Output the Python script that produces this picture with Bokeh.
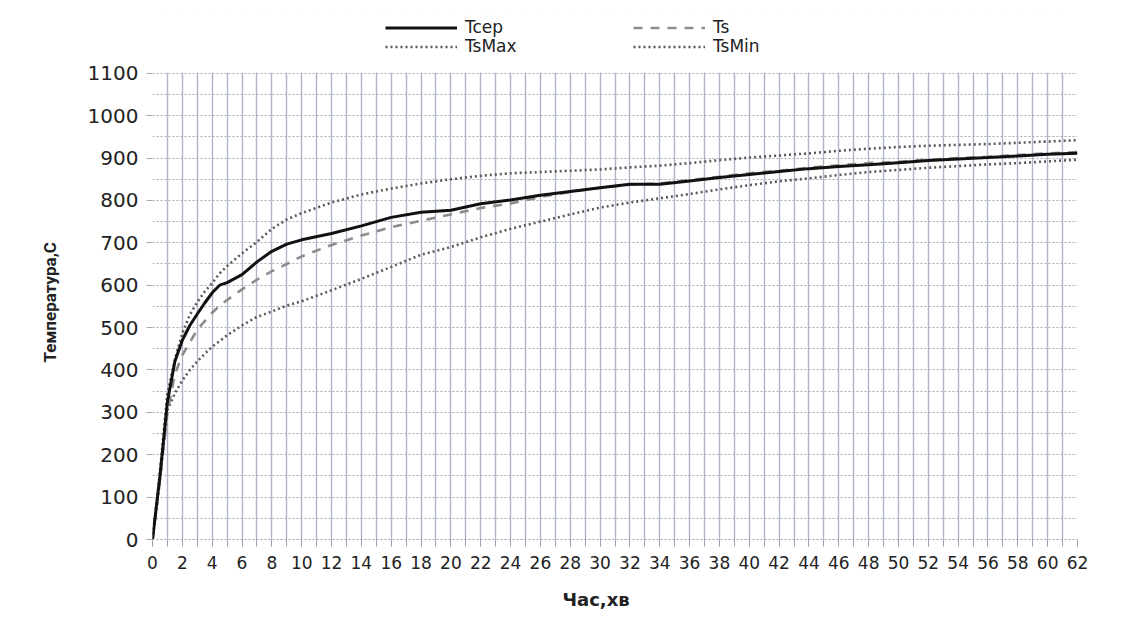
from bokeh.plotting import figure
from bokeh.models import Range1d, FixedTicker, Legend, LegendItem, BoxAnnotation, Title
from bokeh.embed import file_html
from bokeh.resources import INLINE

# time, minutes
time = [0, 0.5, 1, 1.5, 2, 2.5, 3, 3.5, 4, 4.5, 5, 6, 7, 8, 9, 10,
        12, 14, 16, 18, 20, 22, 24, 26, 28, 30, 32, 34, 36, 38, 40,
        42, 44, 46, 48, 50, 52, 54, 56, 58, 60, 62]

t_cep = [0, 150, 325, 420, 470, 505, 532, 558, 582, 600, 606, 625, 655, 680, 697, 707,
         722, 740, 760, 772, 777, 792, 801, 812, 821, 830, 838, 838, 846, 854, 861,
         868, 875, 880, 884, 889, 894, 898, 901, 905, 909, 911]

t_s = [0, 140, 300, 390, 435, 465, 495, 515, 535, 552, 565, 590, 613, 633, 650, 668,
       695, 717, 737, 752, 767, 782, 793, 808, 820, 830, 837, 840, 848, 856, 864,
       870, 877, 883, 888, 891, 896, 900, 903, 907, 911, 914]

t_s_max = [0, 160, 345, 425, 487, 530, 560, 585, 605, 628, 645, 675, 702, 733, 755, 770,
           795, 814, 828, 840, 850, 858, 864, 867, 870, 873, 878, 882, 888, 895, 901,
           906, 911, 917, 922, 926, 929, 931, 933, 936, 939, 942]

t_s_min = [0, 140, 305, 345, 375, 400, 420, 438, 455, 468, 482, 505, 525, 538, 552, 562,
           588, 615, 643, 672, 690, 713, 733, 750, 767, 783, 795, 805, 815, 826, 836,
           845, 852, 860, 867, 872, 877, 881, 885, 888, 892, 896]

x_labels = list(range(0, 63, 2))
y_labels = list(range(0, 1101, 100))
Y_MAX = 1100

# frame extends above 1100 to hold the legend (area above is masked white)
p = figure(width=1140, height=626, output_backend="svg", toolbar_location=None,
           x_range=Range1d(0, 62), y_range=Range1d(0, 1241),
           min_border_left=152, min_border_right=63, min_border_top=13, min_border_bottom=86)
p.background_fill_color = "white"
p.border_fill_color = "white"
p.outline_line_color = None

# grids
p.xgrid.ticker = FixedTicker(ticks=list(range(0, 63)))
p.xgrid.grid_line_color = "#aeb5c4"
p.xgrid.grid_line_width = 1.4
p.ygrid.ticker = FixedTicker(ticks=list(range(0, Y_MAX + 1, 50)))
p.ygrid.grid_line_color = "#a3aabb"
p.ygrid.grid_line_width = 1.2
p.ygrid.grid_line_dash = "2 2"

# axes
p.xaxis.ticker = FixedTicker(ticks=x_labels, minor_ticks=list(range(0, 63)))
p.xaxis.axis_line_color = "#9aa0ad"
p.xaxis.axis_line_dash = "2 2"
p.xaxis.major_tick_line_color = "#9aa0ad"
p.xaxis.minor_tick_line_color = "#9aa0ad"
p.xaxis.major_tick_out = 7
p.xaxis.major_tick_in = 0
p.xaxis.minor_tick_out = 7
p.xaxis.minor_tick_in = 0
p.xaxis.major_label_standoff = 9
p.xaxis.major_label_text_font = "DejaVu Sans"
p.xaxis.major_label_text_font_size = "17px"
p.xaxis.major_label_text_color = "#222222"

p.yaxis.ticker = FixedTicker(ticks=y_labels)
p.yaxis.bounds = (0, Y_MAX)
p.yaxis.axis_line_color = None
p.yaxis.major_tick_line_color = "#a3aabb"
p.yaxis.major_tick_out = 6
p.yaxis.major_tick_in = 0
p.yaxis.minor_tick_line_color = None
p.yaxis.major_label_standoff = 8
p.yaxis.major_label_text_font = "DejaVu Sans"
p.yaxis.major_label_text_font_size = "20px"
p.yaxis.major_label_text_color = "#222222"

# axis titles (as side titles so they can be placed along the axis)
p.add_layout(Title(text="Температура,С", align="left", offset=177, standoff=48,
                   vertical_align="middle", text_font="Roboto", text_font_size="17px",
                   text_font_style="bold", text_color="#222222"), "left")
p.add_layout(Title(text="Час,хв", align="left", offset=410, standoff=32,
                   vertical_align="middle", text_font="DejaVu Sans", text_font_size="18px",
                   text_font_style="bold", text_color="#222222"), "below")

# series
r_max = p.line(time, t_s_max, line_color="#5a5a5a", line_width=2.6, line_dash="2 3")
r_min = p.line(time, t_s_min, line_color="#5a5a5a", line_width=2.6, line_dash="2 3")
r_s = p.line(time, t_s, line_color="#8c8c8c", line_width=2.6, line_dash="9 8")
r_cep = p.line(time, t_cep, line_color="#111111", line_width=3)

# white mask above the plot area (legend zone)
mask = BoxAnnotation(bottom=Y_MAX + 1.5, fill_color="white", fill_alpha=1.0,
                     line_color=None, level="underlay")
p.add_layout(mask)

common = dict(border_line_color=None, background_fill_alpha=0, padding=0, margin=0,
              spacing=0, glyph_width=72, glyph_height=17, label_height=17,
              label_standoff=8, label_text_font="DejaVu Sans", label_text_font_size="17px",
              label_text_color="#222222", label_text_baseline="middle")
entries = [("Tcep", r_cep, 233, 502), ("Ts", r_s, 481, 502),
           ("TsMax", r_max, 233, 483), ("TsMin", r_min, 481, 483)]
for label, rend, lx, ly in entries:
    p.add_layout(Legend(items=[LegendItem(label=label, renderers=[rend])],
                        location=(lx, ly), **common), "center")

open("out.html", "w").write(file_html(p, INLINE))
